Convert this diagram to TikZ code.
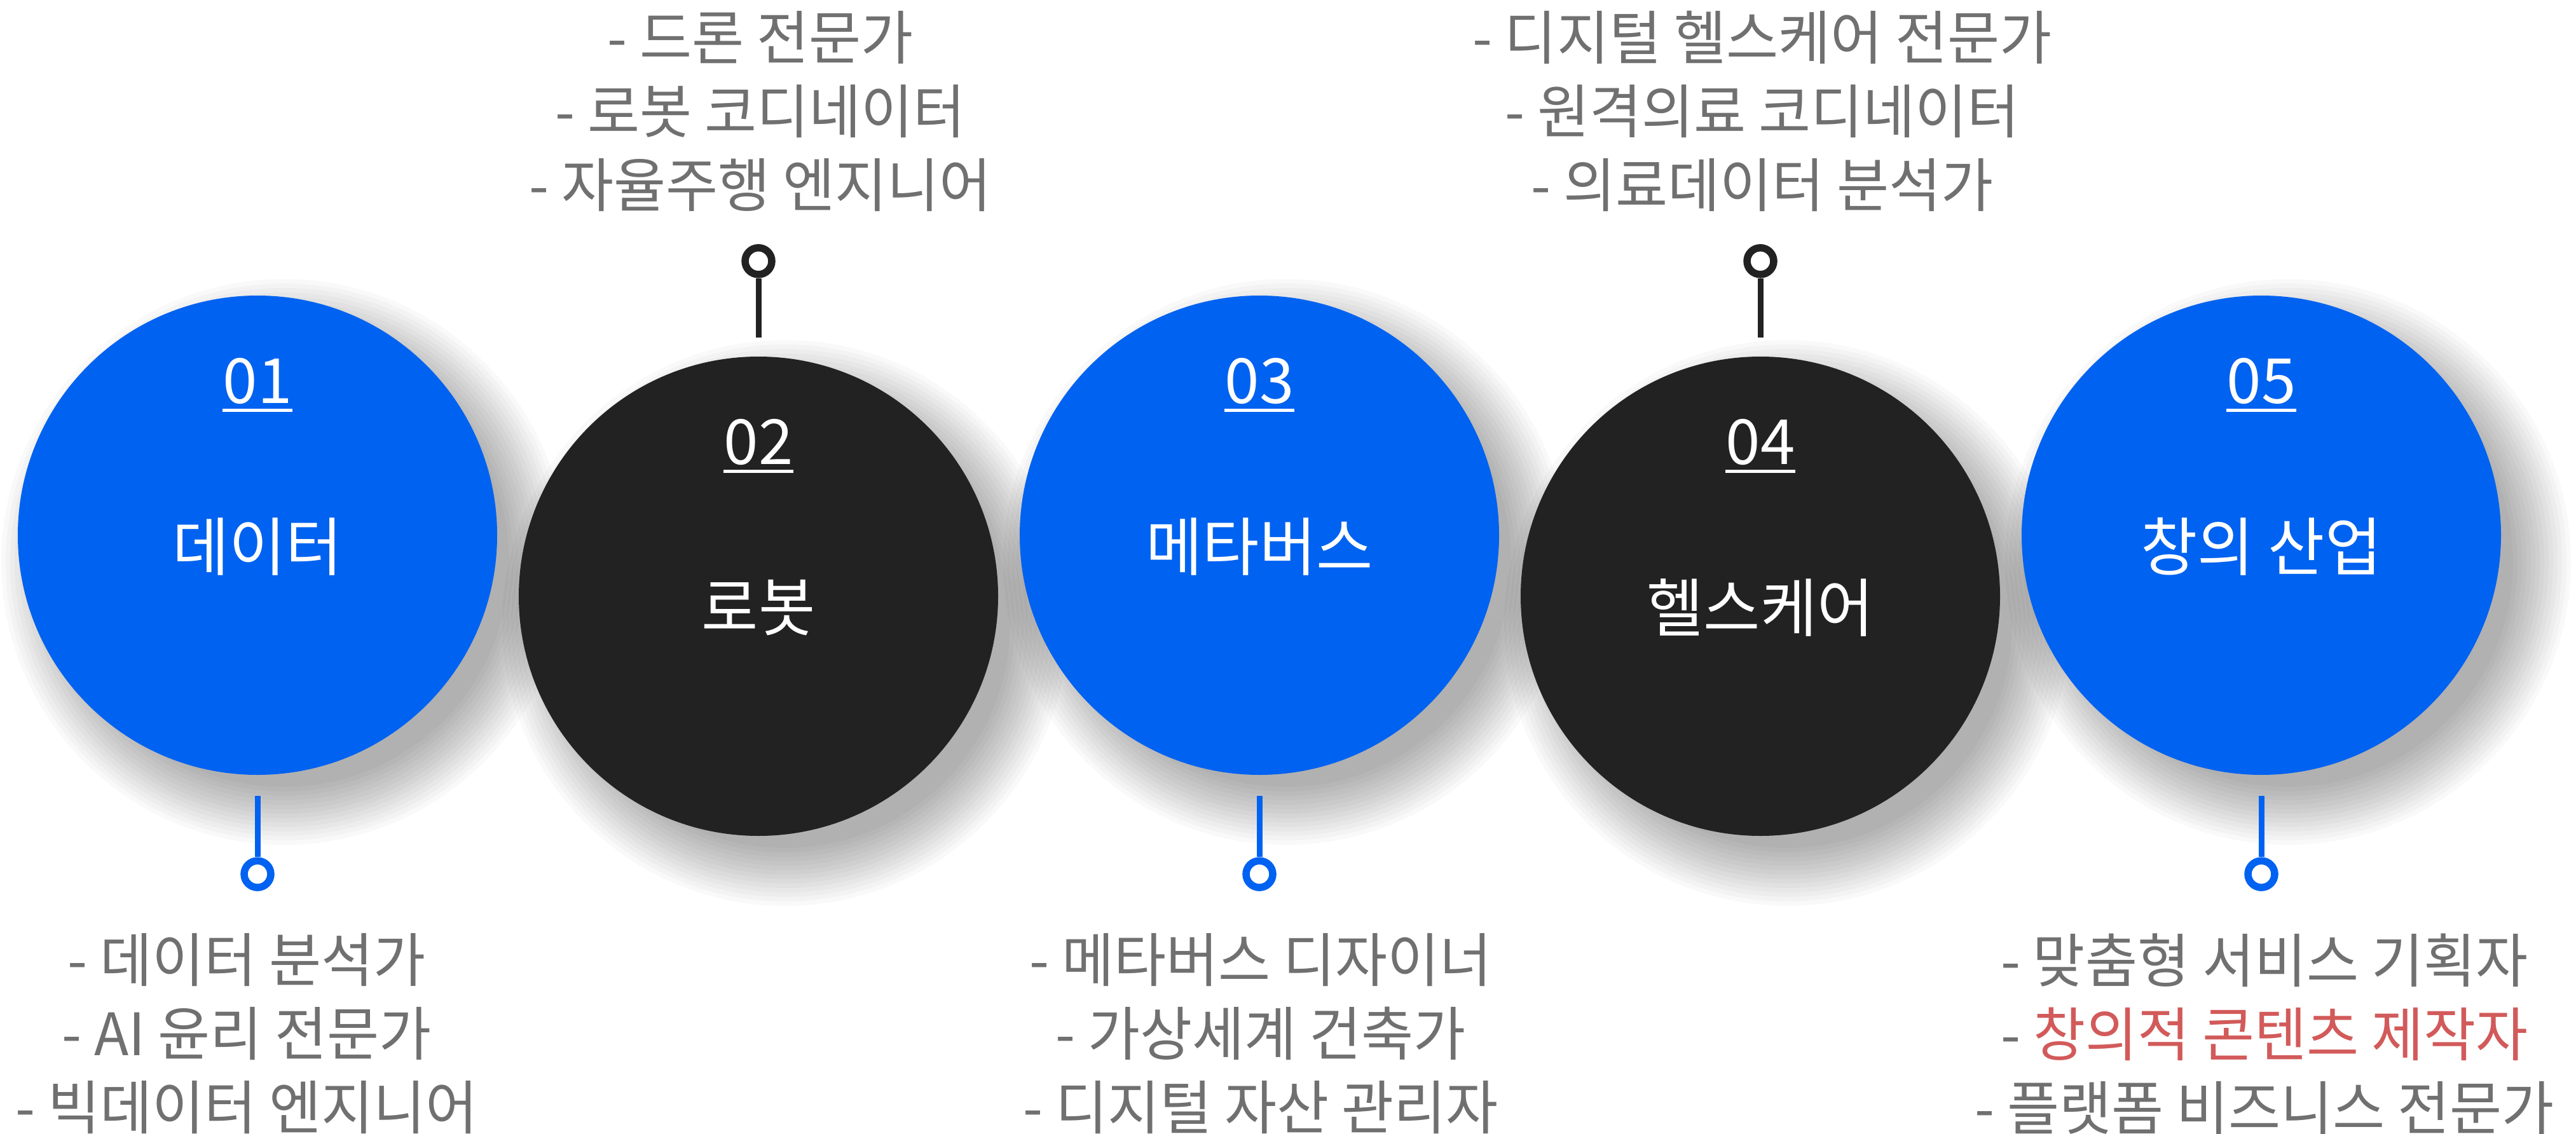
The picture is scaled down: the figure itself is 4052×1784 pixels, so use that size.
\documentclass[tikz,border=0pt]{standalone}
\usepackage{fontspec}
\newfontfamily\kr[FakeStretch=0.97]{Noto Sans CJK KR}
\newfontfamily\krn[FakeStretch=1.0]{Noto Sans CJK KR}
\definecolor{cblue}{HTML}{0062F0}
\definecolor{cdark}{HTML}{222222}
\definecolor{cgray}{HTML}{707070}
\definecolor{cred}{HTML}{D25A5A}
\begin{document}
\begin{tikzpicture}[x=1pt,y=-1pt,
  bubble/.style={circle, minimum size=754pt, inner sep=0pt, draw=none},
  numtext/.style={text=white, font=\krn\fontsize{98}{110}\selectfont, inner sep=0pt, anchor=base},
  nametext/.style={text=white, font=\kr\fontsize{100}{120}\selectfont, inner sep=0pt},
  listtext/.style={text=cgray, font=\kr\fontsize{92}{116}\selectfont, align=center, inner sep=0pt},
  ring/.style={circle, minimum size=42pt, inner sep=0pt, line width=11.5pt, fill=white},
  pinline/.style={line width=9pt}
]
\useasboundingbox (0,0) rectangle (4052,1784);
\fill[white] (0,0) rectangle (4052,1784);
% shadows
\foreach \cx/\cy in {405/842,1193/938,1981/842,2769/938,3557/842}{
  \foreach \i in {0,...,13}{
    \fill[black, opacity=0.022] (\cx+42,\cy+42) circle ({445pt-7pt*\i});
  }
}
% circles
\foreach \cx/\cy/\col/\n/\name/\id in {405/842/cblue/01/데이터/a,1193/938/cdark/02/로봇/b,1981/842/cblue/03/메타버스/c,2769/938/cdark/04/헬스케어/d,3557/842/cblue/05/창의 산업/e}{
  \node[bubble, fill=\col] (c\id) at (\cx,\cy) {};
  \node[numtext] (n\id) at (\cx,\cy-208) {\n};
  \draw[white, line width=5pt] ([yshift=-11pt]n\id.base west) -- ([yshift=-11pt]n\id.base east);
  \node[nametext] (t\id) at (\cx,\cy+18) {\name};
}
% bottom pins (blue)
\foreach \id in {a,c,e}{
  \node[ring, draw=cblue] (r\id) at ([yshift=-156pt]c\id.south) {};
  \draw[pinline, cblue] ([yshift=-33pt]c\id.south) -- (r\id);
}
% top pins (dark)
\foreach \id in {b,d}{
  \node[ring, draw=cdark] (r\id) at ([yshift=150pt]c\id.north) {};
  \draw[pinline, cdark] ([yshift=30pt]c\id.north) -- (r\id);
}
% lists
\node[listtext, anchor=north] (la) at (388,1468) {- 데이터 분석가\\- AI 윤리 전문가\\- 빅데이터 엔지니어};
\node[listtext, anchor=north] (lb) at (1196,17) {- 드론 전문가\\- 로봇 코디네이터\\- 자율주행 엔지니어};
\node[listtext, anchor=north] (lc) at (1983,1468) {- 메타버스 디자이너\\- 가상세계 건축가\\- 디지털 자산 관리자};
\node[listtext, anchor=north] (ld) at (2772,17) {- 디지털 헬스케어 전문가\\- 원격의료 코디네이터\\- 의료데이터 분석가};
\node[listtext, anchor=north] (le) at (3562,1468) {- 맞춤형 서비스 기획자\\- \textcolor{cred}{창의적 콘텐츠 제작자}\\- 플랫폼 비즈니스 전문가};
\end{tikzpicture}
\end{document}
